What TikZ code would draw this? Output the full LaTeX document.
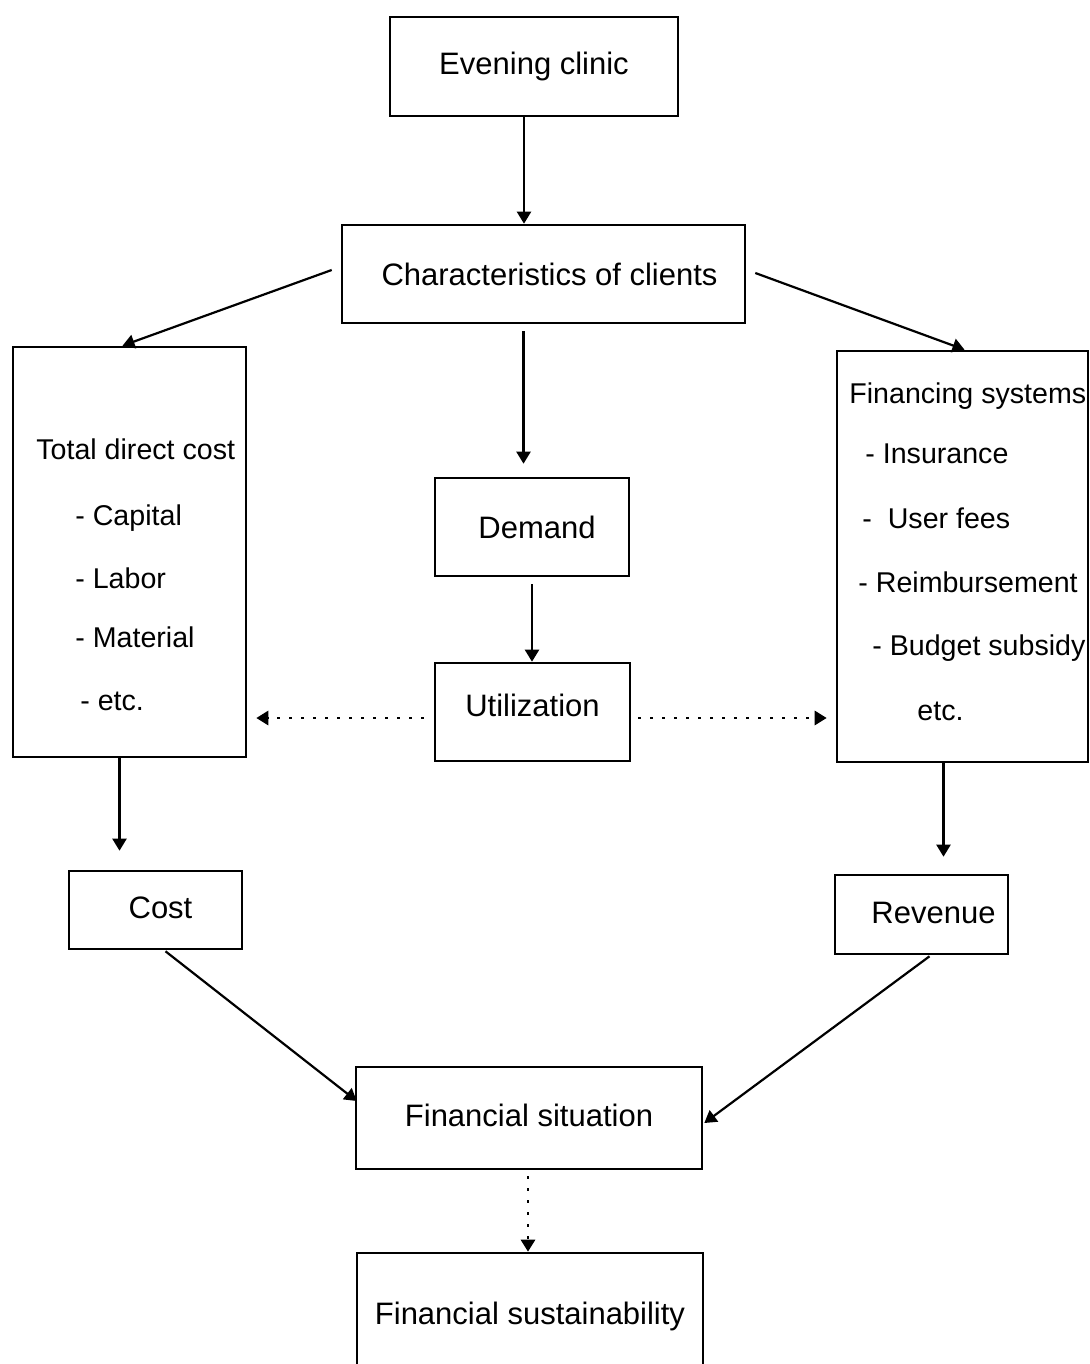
\documentclass[tikz,border=0pt]{standalone}
\usepackage{fontspec}
\setmainfont{Liberation Sans}
\usetikzlibrary{arrows.meta, calc}

\begin{document}
\begin{tikzpicture}[x=0.5pt,y=-0.5pt,>={Triangle[width=7pt,length=6pt]},
		box/.style={draw, line width=1.3pt, inner sep=0pt, font=\fontsize{15.5}{18}\selectfont},
		item/.style={inner sep=0pt, anchor=base west, font=\fontsize{14.3}{16}\selectfont},
		arr/.style={->, line width=1.1pt},
		dots/.style={->, line width=1.4pt, dash pattern=on 1.4pt off 4.6pt}]
			\useasboundingbox (0,0) rectangle (1090,1364);
			\clip (0,0) rectangle (1090,1364);
			\node[box, minimum width=144pt, minimum height=49.5pt] (ev) at (534,66.5) {Evening clinic};
			\node[box, minimum width=201.5pt, minimum height=49pt] (chr) at (543.5,274) {\hspace{6pt}Characteristics of clients};
			\node[box, minimum width=116.5pt, minimum height=205pt] (tdc) at (129.5,552) {};
			\node[box, minimum width=97pt, minimum height=49pt] (dem) at (532,527) {\hspace{5pt}Demand};
			\node[box, minimum width=97.5pt, minimum height=49pt] (util) at (532.5,712) {\raisebox{7pt}{Utilization}};
			\node[box, minimum width=125.5pt, minimum height=205.5pt] (fin) at (962.5,556.5) {};
			\node[box, minimum width=86.5pt, minimum height=39pt] (cost) at (155.5,910) {\raisebox{2pt}{\hspace{5pt}Cost}};
			\node[box, minimum width=86.5pt, minimum height=39.5pt] (rev) at (921.5,914.5) {\raisebox{2pt}{\hspace{12pt}Revenue}};
			\node[box, minimum width=173pt, minimum height=51pt] (sit) at (529,1118) {\raisebox{3pt}{Financial situation}};
			\node[box, minimum width=173pt, minimum height=63.5pt] (sus) at (530,1316.5) {\raisebox{3pt}{Financial sustainability}};

			\foreach \txt/\xx/\yy [count=\i] in {Total direct cost/36/459, - Capital/75/525, - Labor/75/588, - Material/75/647, - etc./80/710}
				\node[item] (tdc\i) at (\xx,\yy) {\txt};
			\foreach \txt/\xx/\yy [count=\i] in {Financing systems/849/403, - Insurance/865/463, -\ \ User fees/862/528, - Reimbursement/858/592, - Budget subsidy/872/655, etc./917/720}
				\node[item] (fin\i) at (\xx,\yy) {\txt};

			\draw[arr] ($(ev.south)+(-10,0)$) -- ($(ev.south |- chr.north)+(-10,0)$);
			\draw[arr] ($(chr.west)+(-9,-4)$) -- ($(tdc.north)+(-7,0)$);
			\draw[arr] ($(chr.east)+(9,-1)$) -- ($(fin.north)+(2,0)$);
			\draw[arr] ($(chr.south)+(-20,7)$) -- ($(chr.south |- dem.north)+(-20,-13)$);
			\draw[arr] ($(dem.south)+(0,7)$) -- (dem.south |- util.north);
			\draw[dots] ($(util.west)+(-10,6)$) -- ($(util.west -| tdc.east)+(9,6)$);
			\draw[dots] ($(util.east)+(7,6)$) -- ($(util.east -| fin.west)+(-9,6)$);
			\draw[arr] ($(tdc.south)+(-10,0)$) -- ($(tdc.south |- cost.north)+(-10,-19)$);
			\draw[arr] ($(fin.south)+(-19,0)$) -- ($(fin.south |- rev.north)+(-19,-17)$);
			\draw[arr] ($(cost.south)+(10,1)$) -- ($(sit.west)+(2,-17)$);
			\draw[arr] ($(rev.south)+(8,1)$) -- ($(sit.east)+(1,5)$);
			\draw[dots] ($(sit.south)+(-1,6)$) -- ($(sit.south |- sus.north)+(-1,0)$);
		\end{tikzpicture}
\end{document}
